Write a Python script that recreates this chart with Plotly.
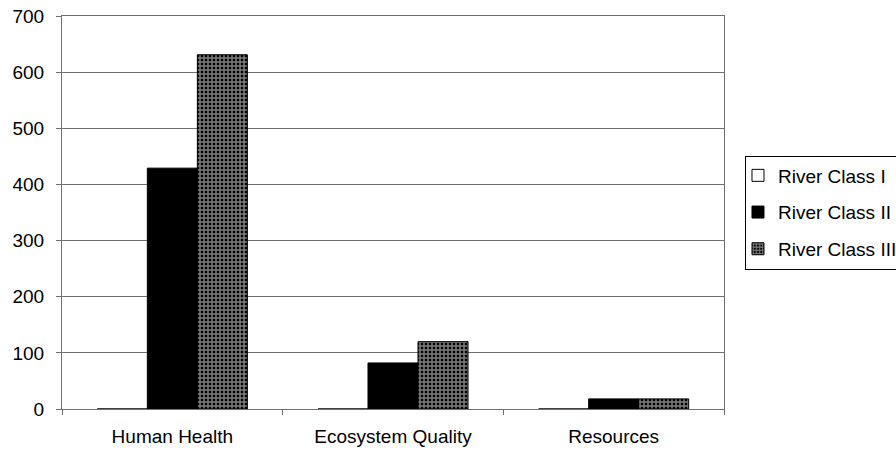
import plotly.graph_objects as go

categories = ["Human Health", "Ecosystem Quality", "Resources"]
river_class_1 = [0, 0, 0]
river_class_2 = [429, 82, 18]
river_class_3 = [631, 120, 18]
y_ticks = [0, 100, 200, 300, 400, 500, 600, 700]

FONT = "Liberation Sans, Arial, sans-serif"
AXIS_GREY = "#707070"

fig = go.Figure()
fig.add_trace(go.Bar(
    name="River Class I", x=categories, y=river_class_1,
    marker=dict(color="white", line=dict(color="black", width=1)),
    legendgroup="g1",
))
fig.add_trace(go.Bar(
    name="River Class II", x=categories, y=river_class_2,
    marker=dict(color="black", line=dict(color="black", width=1)),
    legendgroup="g2",
))
fig.add_trace(go.Bar(
    name="River Class III", x=categories, y=river_class_3,
    marker=dict(
        color="black",
        line=dict(color="black", width=1),
        pattern=dict(shape="+", size=4, solidity=0.6, fgcolor="white", bgcolor="black"),
    ),
    legendgroup="g3",
))

fig.update_layout(
    width=896, height=452,
    margin=dict(l=62, r=172, t=16, b=43, autoexpand=False),
    paper_bgcolor="white", plot_bgcolor="white",
    barmode="group", bargap=0.32, bargroupgap=0,
    font=dict(family=FONT, size=19, color="black"),
    showlegend=True,
    legend=dict(
        x=1.0317, xanchor="left", y=0.50, yanchor="middle",
        bordercolor="black", borderwidth=1, bgcolor="white",
        font=dict(family=FONT, size=19, color="black"),
        tracegroupgap=9, itemwidth=30, indentation=-8,
    ),
)
fig.update_xaxes(
    type="category", showgrid=False,
    showline=True, linecolor=AXIS_GREY, linewidth=1, mirror=True,
    ticks="outside", tickson="boundaries", ticklen=5, tickcolor=AXIS_GREY,
    ticklabelstandoff=10,
    tickfont=dict(family=FONT, size=19, color="black"),
)
fig.update_yaxes(
    range=[0, 700], tickvals=y_ticks,
    showgrid=True, gridcolor=AXIS_GREY, gridwidth=1,
    showline=True, linecolor=AXIS_GREY, linewidth=1, mirror=True,
    ticks="outside", ticklen=5, tickcolor=AXIS_GREY,
    ticklabelstandoff=8, zeroline=False,
    tickfont=dict(family=FONT, size=19, color="black"),
)

fig.write_html("out.html")
